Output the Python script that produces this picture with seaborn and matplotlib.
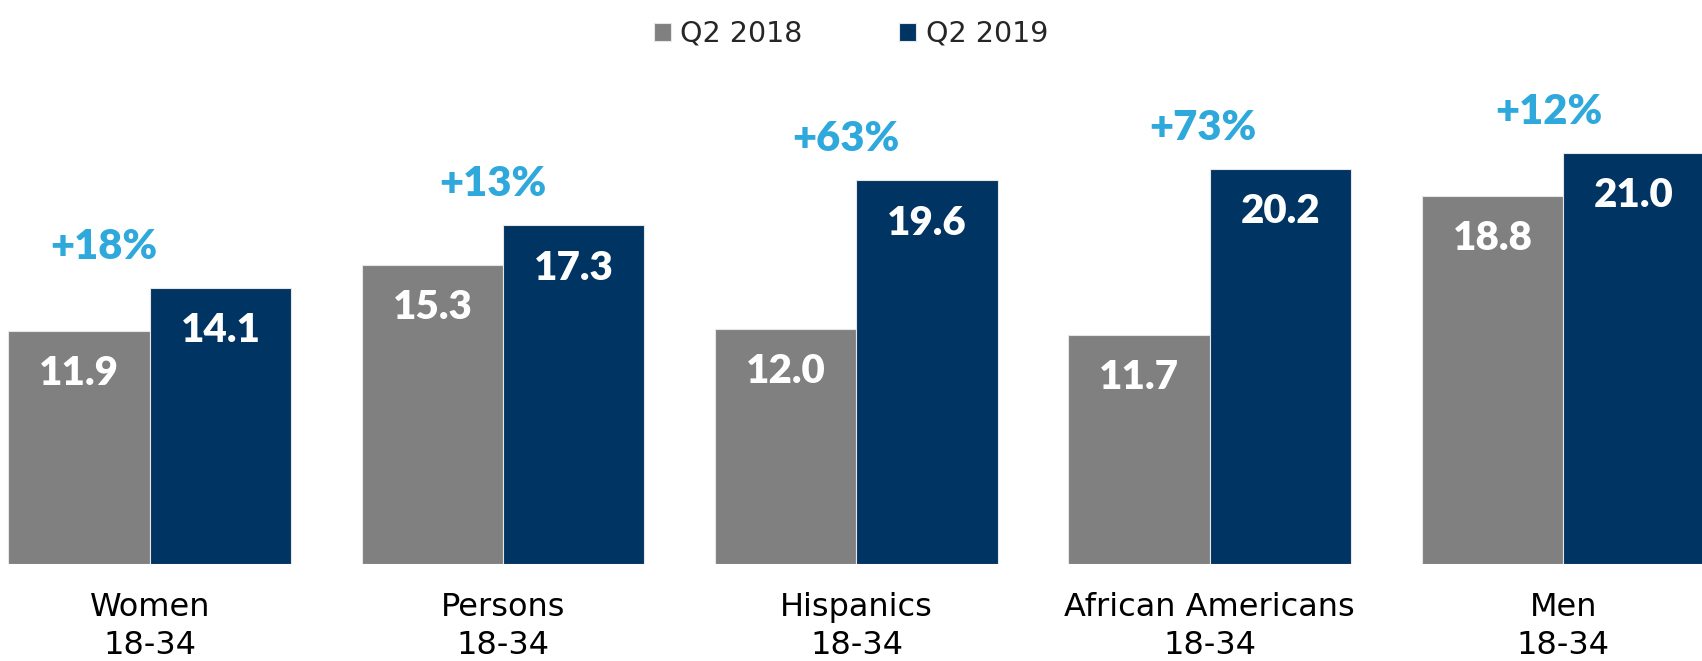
import matplotlib
matplotlib.use("Agg")
import matplotlib.pyplot as plt
import seaborn as sns
import pandas as pd

categories = ["Women\n18-34", "Persons\n18-34", "Hispanics\n18-34", "African Americans\n18-34", "Men\n18-34"]
q2_2018 = [11.9, 15.3, 12.0, 11.7, 18.8]
q2_2019 = [14.1, 17.3, 19.6, 20.2, 21.0]
changes = ["+18%", "+13%", "+63%", "+73%", "+12%"]
series = ["Q2 2018", "Q2 2019"]

df = pd.DataFrame({
    "category": categories * 2,
    "value": q2_2018 + q2_2019,
    "series": [series[0]] * len(categories) + [series[1]] * len(categories),
})

sns.set_theme(style="white")
plt.rcParams['font.family'] = ['DejaVu Sans']

fig = plt.figure(figsize=(17.02, 6.61), dpi=100)
ax = fig.add_axes([0, 97 / 661, 1, 564 / 661])

palette = {"Q2 2018": "#808080", "Q2 2019": "#003462"}
sns.barplot(data=df, x="category", y="value", hue="series", palette=palette,
            width=0.8, edgecolor="#e6e6e6", linewidth=0.8, ax=ax, saturation=1)

ax.set_xlim(-0.424, 4.393)
ax.set_ylim(0, 28.82)
ax.set_xlabel("")
ax.set_ylabel("")
ax.set_yticks([])
for s in ax.spines.values():
    s.set_visible(False)
ax.tick_params(axis="x", length=0, labelsize=23, pad=20, colors="#000000")
for lbl in ax.get_xticklabels():
    lbl.set_linespacing(1.3)

for container in ax.containers:
    ax.bar_label(container, labels=[f"{v:.1f}" for v in container.datavalues],
                 label_type="edge", padding=-44, color="white",
                 fontsize=29, fontweight="heavy", family="Lato")

# label x nudges relative to group centre (annotation layout)
pct_nudge = [-0.13, -0.03, -0.03, -0.02, -0.04]
for i, (v, txt) in enumerate(zip(q2_2019, changes)):
    ax.text(i + pct_nudge[i], v + 2.1, txt, ha="center", va="center", color="#2FA8DC",
            fontsize=30, fontweight="heavy", family="Lato")

sns.move_legend(ax, "upper center", bbox_to_anchor=(0.5, 1.0), bbox_transform=fig.transFigure,
                ncol=2, frameon=False, title=None, fontsize=20.5,
                handlelength=0.6, handleheight=0.6, handletextpad=0.32,
                columnspacing=3.4, borderaxespad=0.3)

fig.savefig("out.png", dpi=100)
